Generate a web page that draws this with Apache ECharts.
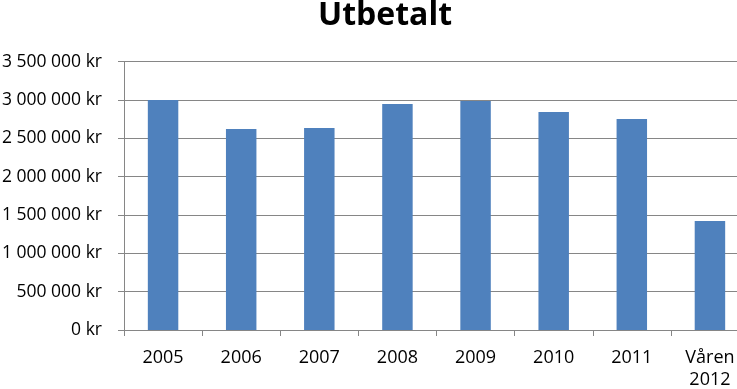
<!DOCTYPE html>
<html>
<head>
<meta charset="utf-8">
<script src="https://cdn.jsdelivr.net/npm/echarts@6/dist/echarts.min.js"></script>
<style>
html,body{margin:0;padding:0;background:#fff;}
#c{width:737px;height:389px;}
</style>
</head>
<body>
<div id="c"></div>
<script>
var titleText = 'Utbetalt';
var categories = ['2005', '2006', '2007', '2008', '2009', '2010', '2011', 'Våren\n2012'];
var values = [3000000, 2622000, 2635000, 2948000, 2987000, 2843000, 2752000, 1422000];
var yMin = 0, yMax = 3500000, yStep = 500000;

function fmt(v) {
  var s = String(Math.round(v));
  var out = '';
  while (s.length > 3) { out = ' ' + s.slice(-3) + out; s = s.slice(0, -3); }
  return s + out + ' kr';
}

var chart = echarts.init(document.getElementById('c'), null, {renderer: 'canvas'});
chart.setOption({
  animation: false,
  backgroundColor: '#ffffff',
  title: {
    text: titleText,
    left: 380,
    textAlign: 'center',
    top: -5,
    textStyle: {fontFamily: 'Open Sans', fontWeight: 'bold', fontSize: 32, color: '#000'}
  },
  grid: {left: 124, top: 61.7, width: 625, height: 268.3, containLabel: false, outerBoundsMode: 'none'},
  xAxis: {
    type: 'category',
    data: categories,
    axisLine: {lineStyle: {color: '#868686', width: 1}},
    axisTick: {show: true, length: 6, lineStyle: {color: '#868686'}},
    axisLabel: {
      margin: 17, interval: 0,
      fontFamily: 'Open Sans', fontSize: 18, color: '#000', lineHeight: 22
    },
    splitLine: {show: false}
  },
  yAxis: {
    type: 'value',
    min: yMin, max: yMax, interval: yStep,
    axisLine: {show: true, lineStyle: {color: '#868686', width: 1}},
    axisTick: {show: true, length: 6, lineStyle: {color: '#868686'}},
    axisLabel: {
      margin: 22,
      fontFamily: 'Open Sans', fontSize: 17.5, color: '#000',
      formatter: fmt
    },
    splitLine: {show: true, lineStyle: {color: '#868686', width: 1}}
  },
  series: [{
    type: 'bar',
    data: values,
    barWidth: '39%',
    itemStyle: {color: '#4F81BD'}
  }]
});
</script>
</body>
</html>
